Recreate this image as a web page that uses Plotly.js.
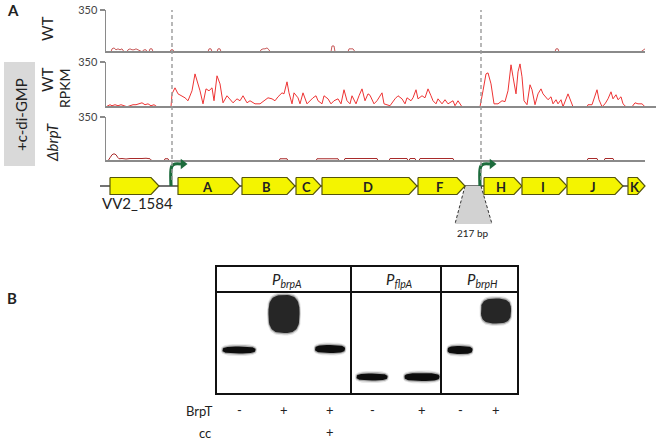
<!DOCTYPE html>
<html><head><meta charset="utf-8">
<script src="https://cdn.plot.ly/plotly-3.0.1.min.js"></script>
<style>body{margin:0;background:#fff}#chart{width:660px;height:440px}</style>
</head><body><div id="chart"></div><script>
// ---------------- DATA: panel A (RNA-seq coverage, RPKM) ----------------
const wtPos  = [0,5,6,8,10,12,14,16,18,21,22,24,26,28,30,32,34,36,38,40,41,43,44,46,47,64,65,67,68,102,103,105,106,111,112,114,115,154,155,157,159,161,163,164,225,226,228,229,242,243,245,247,249,449,450,452,453,535,539];
const wtRpkm = [0,0,24,32,16,24,16,24,0,0,16,24,16,16,24,16,0,0,16,16,0,0,24,24,0,0,16,16,0,0,24,24,0,0,24,24,0,0,16,24,24,32,16,0,0,48,48,0,0,24,24,24,0,0,24,24,0,0,24];

const cdgPos  = [0,2,4,6,9,12,15,18,21,24,27,30,33,36,39,42,45,48,51,59,65,66,69,72,76,79,82,86,89,91,94,97,100,103,106,108,111,114,117,121,124,127,131,134,137,141,144,149,154,159,162,166,169,172,176,178,181,183,186,188,192,194,197,201,204,207,210,212,216,218,222,225,228,232,235,238,241,244,246,250,253,256,259,262,264,268,271,276,278,284,289,292,296,299,301,305,307,310,312,316,319,322,325,327,330,332,336,339,342,347,349,352,356,364,374,377,380,382,385,388,392,396,399,402,405,407,410,412,414,416,418,421,424,426,429,432,435,437,440,442,445,447,450,452,455,457,462,465,467,481,482,486,491,493,496,499,502,505,507,510,512,515,517,520,526,529,532,536,539,550];
const cdgRpkm = [0,8,16,8,16,8,16,8,0,8,16,16,24,31,16,23,8,16,0,0,0,101,148,101,86,70,47,125,257,203,125,23,140,125,148,47,242,179,31,86,62,31,62,47,86,31,47,23,23,55,70,62,47,78,109,101,195,109,23,109,70,23,109,23,47,70,86,47,23,86,62,23,47,62,23,133,47,23,86,23,86,140,47,101,90,23,47,109,23,8,62,86,62,23,70,47,70,133,62,86,70,140,86,47,23,62,23,55,23,47,8,47,0,0,0,125,257,265,179,23,23,47,40,125,328,234,101,273,335,234,47,16,172,133,16,101,140,101,78,55,78,23,55,23,55,0,101,39,0,0,16,16,133,55,0,23,62,117,62,94,55,78,23,0,0,31,23,23,0,0];

const dbrpPos  = [0,2,4,6,8,10,12,13,16,20,24,28,32,36,40,44,46,58,59,62,63,173,174,181,182,210,211,232,233,238,239,271,272,283,284,301,302,303,304,309,310,313,314,347,348,481,482,491,492,498,499,507,508,539];
const dbrpRpkm = [0,0,24,48,56,48,24,16,18,14,18,16,20,18,20,16,0,0,16,16,0,0,16,16,0,0,16,16,0,0,18,18,0,0,18,18,0,0,18,18,0,0,18,18,0,0,18,18,0,0,18,18,0,0];

const trackLabels = ['WT', 'WT', 'ΔbrpT'];
const yTickVals = [350];

// genes of the locus (same genomic units as the coverage tracks)
const geneNames = ['VV2_1584','A','B','C','D','F','H','I','J','K'];
const geneStart = [4,72,136,190,216,312,378,416,461,522];
const geneEnd   = [53,134,189,215,311,359,416,461,517,539];
const promoters = [66, 375];
const gapRegion = [359, 375];
const gapLabel  = '217 bp';

// ---------------- DATA: panel B (EMSA gel) ----------------
const probes    = ['brpA','flpA','brpH'];
const laneProbe = [0,0,0,1,1,2,2];
const laneBrpT  = ['-','+','+','-','+','-','+'];
const laneCC    = ['','','+','','','',''];
const laneX     = [22,67,113,155,205,243,279];   // lane centre in gel units
const bandY     = [83,47,82,110,110,83,44];      // migration (gel units from well)
const bandW     = [33,31,30,31,35,25,30];
const bandH     = [7,38,8,7,8,8,25];

// ---------------- STYLE / LAYOUT HELPERS ----------------
const W=660, H=440;
const px = v => v/W, py = v => 1 - v/H;
const FONT = 'Lato, "Open Sans", sans-serif';
const GENE_Y = 186, GENE_HH = 8.5, HEAD = 8;

const traces = [];
const covColors = ['#c85a5a','#ee3434','#a82a2a'];
[[wtPos,wtRpkm],[cdgPos,cdgRpkm],[dbrpPos,dbrpRpkm]].forEach((d,i)=>{
  const ax = i===0?'':String(i+1);
  traces.push({type:'scatter',mode:'lines',x:d[0],y:d[1],xaxis:'x'+ax,yaxis:'y'+ax,
    line:{color:covColors[i],width:1},hoverinfo:'skip',showlegend:false});
});

// gene backbone
traces.push({type:'scatter',mode:'lines',x:[geneStart[0]-10, geneStart[geneStart.length-1]],y:[GENE_Y,GENE_Y],
  xaxis:'x4',yaxis:'y4',line:{color:'#444',width:1.5},hoverinfo:'skip',showlegend:false});

// trapezoid under the intergenic gap
{
  const a=gapRegion[0], b=gapRegion[1];
  traces.push({type:'scatter',mode:'lines',x:[a,b,b+11,a-10,a],y:[GENE_Y,GENE_Y,224,224,GENE_Y],fill:'toself',
    fillcolor:'#d2d2d2',line:{width:0},xaxis:'x4',yaxis:'y4',hoverinfo:'skip',showlegend:false});
  traces.push({type:'scatter',mode:'lines',x:[a,a-10],y:[GENE_Y,224],xaxis:'x4',yaxis:'y4',line:{color:'#333',width:1,dash:'3px,2px'},hoverinfo:'skip',showlegend:false});
  traces.push({type:'scatter',mode:'lines',x:[b,b+11],y:[GENE_Y,224],xaxis:'x4',yaxis:'y4',line:{color:'#333',width:1,dash:'3px,2px'},hoverinfo:'skip',showlegend:false});
}

// gene arrows
geneNames.forEach((g,i)=>{
  const s=geneStart[i], e=geneEnd[i];
  const h = Math.min(HEAD, (e-s)*0.45);
  traces.push({type:'scatter',mode:'lines',
    x:[s,e-h,e,e-h,s,s], y:[GENE_Y-GENE_HH,GENE_Y-GENE_HH,GENE_Y,GENE_Y+GENE_HH,GENE_Y+GENE_HH,GENE_Y-GENE_HH],
    fill:'toself',fillcolor:'#f4f400',line:{color:'#55550a',width:1.2},
    xaxis:'x4',yaxis:'y4',hoverinfo:'skip',showlegend:false});
});

// promoter bent arrows
promoters.forEach(p=>{
  traces.push({type:'scatter',mode:'lines',x:[p-1,p-1,p,p+3,p+9],y:[GENE_Y,170,166,164,164],
    line:{color:'#1d6b3c',width:3.2,shape:'spline'},xaxis:'x4',yaxis:'y4',hoverinfo:'skip',showlegend:false});
  traces.push({type:'scatter',mode:'markers',x:[p+11],y:[164],marker:{symbol:'triangle-right',size:9,color:'#1d6b3c'},
    xaxis:'x4',yaxis:'y4',hoverinfo:'skip',showlegend:false});
});

// gel bands (soft halo + dark core)
function blob(cx,cy,w,h,n){
  const xs=[],ys=[];
  for(let k=0;k<=60;k++){
    const t=k/60*2*Math.PI, c=Math.cos(t), s=Math.sin(t);
    xs.push(cx + w/2*Math.sign(c)*Math.pow(Math.abs(c),2/n));
    ys.push(cy + h/2*Math.sign(s)*Math.pow(Math.abs(s),2/n));
  }
  return [xs,ys];
}
laneX.forEach((lx,i)=>{
  [[1.10,5,0.10],[1.05,2.5,0.25]].forEach(hs=>{
    const halo = blob(lx,bandY[i],bandW[i]*hs[0],bandH[i]+hs[1],3);
    traces.push({type:'scatter',mode:'lines',x:halo[0],y:halo[1],fill:'toself',fillcolor:'rgba(0,0,0,'+hs[2]+')',line:{width:0},
      xaxis:'x5',yaxis:'y5',hoverinfo:'skip',showlegend:false});
  });
  const core = blob(lx,bandY[i],bandW[i],bandH[i],3);
  traces.push({type:'scatter',mode:'lines',x:core[0],y:core[1],fill:'toself',fillcolor: bandH[i]>15?'#262626':'#0d0d0d',line:{width:0},
    xaxis:'x5',yaxis:'y5',hoverinfo:'skip',showlegend:false});
});

// group boundaries of the gel
const bounds=[0];
for(let i=1;i<laneX.length;i++) if(laneProbe[i]!==laneProbe[i-1]) bounds.push((laneX[i]+laneX[i-1])/2);
bounds.push(300);

const shapes = [
  {type:'rect',xref:'paper',yref:'paper',x0:px(4),x1:px(35),y0:py(166),y1:py(62),fillcolor:'#d9d9d9',line:{width:0},layer:'below'},
  {type:'line',xref:'x5',yref:'y5',x0:0,x1:300,y0:25,y1:25,line:{color:'#111',width:2}}
];
promoters.forEach(p=>shapes.push({type:'line',xref:'x4',yref:'paper',x0:p,x1:p,y0:py(180),y1:py(10),line:{color:'#9a9a9a',width:1.4,dash:'4px,3px'}}));
bounds.slice(1,-1).forEach(b=>shapes.push({type:'line',xref:'x5',yref:'y5',x0:b,x1:b,y0:0,y1:126,line:{color:'#111',width:2}}));

const T = (text,x,y,o)=>Object.assign({text:text,x:px(x),y:py(y),xref:'paper',yref:'paper',xanchor:'center',yanchor:'middle',
  showarrow:false,font:{size:15,color:'#222',family:FONT}},o||{});
const annotations = [
  T('<b>A</b>',5,10,{xanchor:'left'}),
  T('<b>B</b>',5,298,{xanchor:'left'}),
  T(trackLabels[0],47,29,{textangle:-90}),
  T(trackLabels[1],47,80,{textangle:-90}),
  T('RPKM',64,89,{textangle:-90,font:{size:14,color:'#222',family:FONT}}),
  T('<i>'+trackLabels[2]+'</i>',52,142,{textangle:-90}),
  T('+c-di-GMP',21,114,{textangle:-90}),
  T('BrpT',215,411,{xanchor:'right',font:{size:13,color:'#222',family:FONT}}),
  T('cc',213,433,{xanchor:'right',font:{size:13,color:'#222',family:FONT}}),
  {text:gapLabel,x:(gapRegion[0]+gapRegion[1])/2,y:233,xref:'x4',yref:'y4',xanchor:'center',yanchor:'middle',showarrow:false,font:{size:10,color:'#222',family:FONT}}
];
geneNames.forEach((g,i)=>{
  const s=geneStart[i], e=geneEnd[i];
  if(g.length===1){
    annotations.push({text:'<b>'+g+'</b>',x:(s+e-HEAD/2)/2,y:GENE_Y+0.5,xref:'x4',yref:'y4',xanchor:'center',yanchor:'middle',showarrow:false,font:{size:13,color:'#222',family:FONT}});
  } else {
    annotations.push({text:g,x:s-10,y:203,xref:'x4',yref:'y4',xanchor:'left',yanchor:'middle',showarrow:false,font:{size:15,color:'#222',family:FONT}});
  }
});
probes.forEach((p,i)=>{
  annotations.push({text:'<i>P</i><sub><i>'+p+'</i></sub>',x:(bounds[i]+bounds[i+1])/2+3,y:13,xref:'x5',yref:'y5',xanchor:'center',yanchor:'middle',showarrow:false,font:{size:15,color:'#222',family:FONT}});
});
laneX.forEach((lx,i)=>{
  annotations.push({text:laneBrpT[i],x:lx,y:py(410),xref:'x5',yref:'paper',xanchor:'center',yanchor:'middle',showarrow:false,font:{size:13,color:'#222',family:FONT}});
  if(laneCC[i]) annotations.push({text:laneCC[i],x:lx,y:py(432),xref:'x5',yref:'paper',xanchor:'center',yanchor:'middle',showarrow:false,font:{size:13,color:'#222',family:FONT}});
});

const trackX = (dom,range,anchor)=>({domain:dom,range:range,anchor:anchor,showline:true,linecolor:'#8a8a8a',linewidth:2,layer:'above traces',
  showticklabels:false,ticks:'',showgrid:false,zeroline:false,fixedrange:true});
// y range starts just above 0 so that zero coverage sits hidden under the baseline
const trackY = (dom,anchor)=>({domain:dom,range:[6,350],anchor:anchor,showline:true,linecolor:'#8a8a8a',linewidth:1.5,layer:'above traces',
  tickvals:yTickVals,ticks:'outside',ticklen:5,tickcolor:'#8a8a8a',tickwidth:1.2,tickfont:{size:11,color:'#444',family:FONT},
  showgrid:false,zeroline:false,fixedrange:true});
const hidden = (dom,range,anchor)=>({domain:dom,range:range,anchor:anchor,visible:false,fixedrange:true});

const layout = {
  width:W,height:H,margin:{l:0,r:0,t:0,b:0},paper_bgcolor:'#fff',plot_bgcolor:'rgba(0,0,0,0)',showlegend:false,
  font:{family:FONT},
  xaxis: trackX([px(106),px(645)],[0,539],'y'),
  yaxis: trackY([py(51),py(10)],'x'),
  xaxis2: trackX([px(106),px(656)],[0,550],'y2'),
  yaxis2: trackY([py(106),py(62)],'x2'),
  xaxis3: trackX([px(106),px(645)],[0,539],'y3'),
  yaxis3: trackY([py(160),py(117)],'x3'),
  xaxis4: hidden([px(96),px(656)],[-10,550],'y4'),
  yaxis4: hidden([py(242),py(158)],[242,158],'x4'),
  xaxis5: {domain:[px(217),px(517)],range:[0,300],anchor:'y5',showline:true,mirror:true,linecolor:'#111',linewidth:2,
    showticklabels:false,ticks:'',showgrid:false,zeroline:false,fixedrange:true},
  yaxis5: {domain:[py(393),py(267)],range:[126,0],anchor:'x5',showline:true,mirror:true,linecolor:'#111',linewidth:2,
    showticklabels:false,ticks:'',showgrid:false,zeroline:false,fixedrange:true},
  shapes:shapes, annotations:annotations
};
Plotly.newPlot('chart',traces,layout,{staticPlot:true,displayModeBar:false});
</script></body></html>
